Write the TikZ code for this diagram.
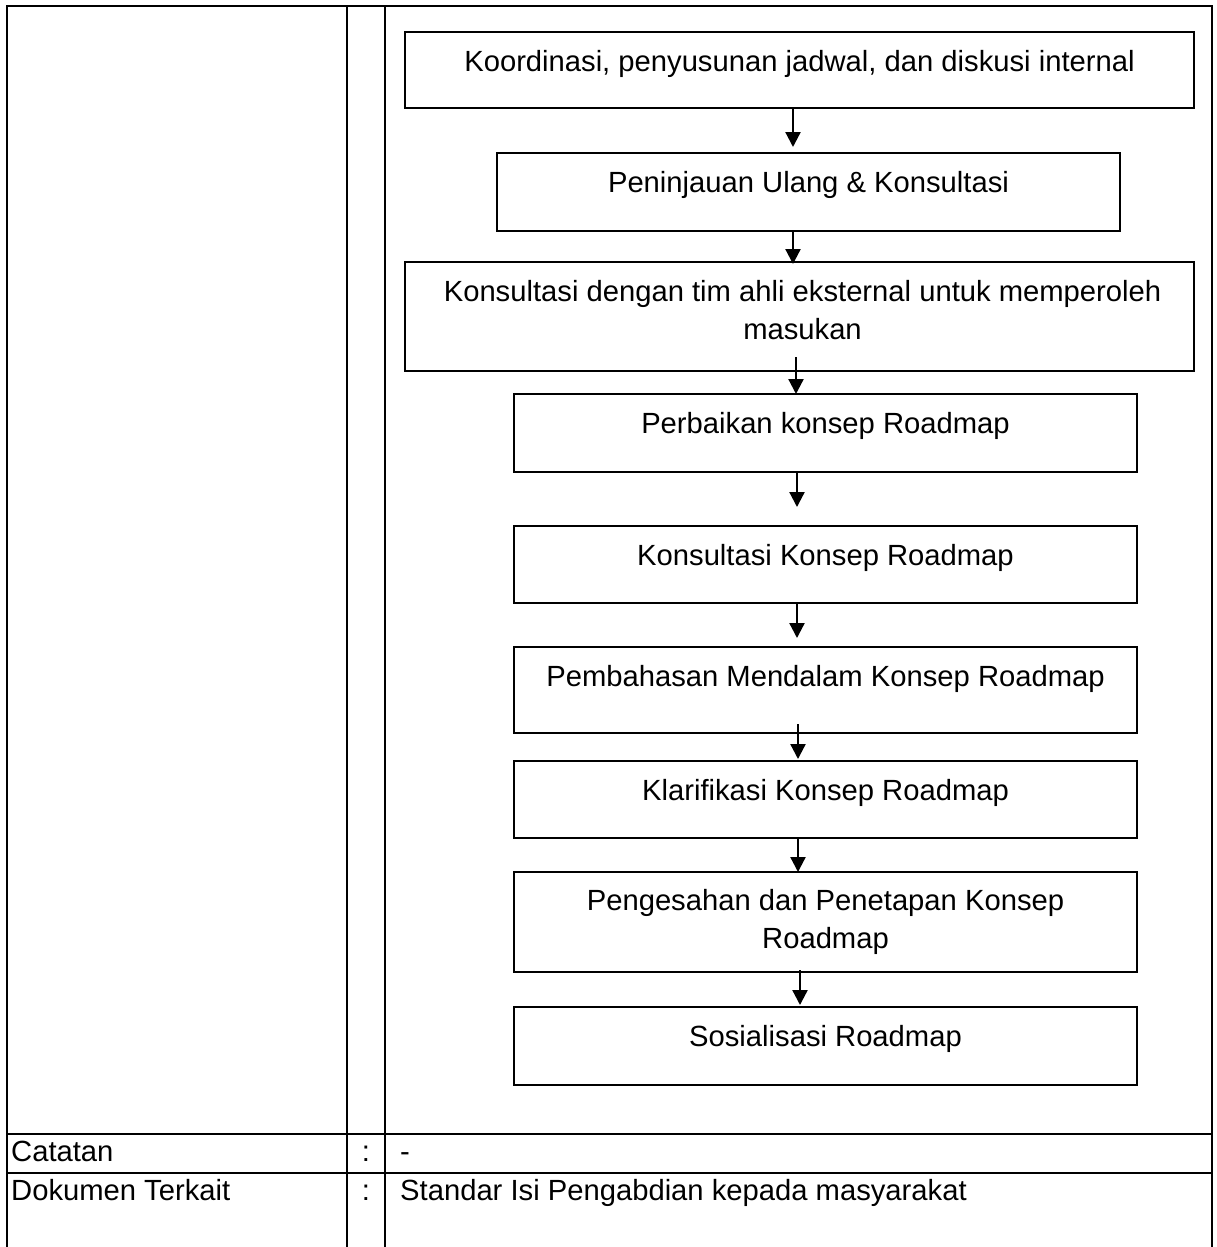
\documentclass[tikz,border=0pt]{standalone}
\usepackage{fontspec}
\setmainfont{Liberation Sans}
\usetikzlibrary{arrows.meta,calc}
\tikzset{
  tbl/.style={line width=2.8pt},
  stepbox/.style={draw, line width=2.7pt, inner sep=0pt, outer sep=0pt, minimum height=#1},
  wide/.style={minimum width=789pt},
  narrow/.style={minimum width=623pt},
  txt/.style={anchor=base, inner sep=0pt, font=\fontsize{29.2}{38}\selectfont},
  ltxt/.style={anchor=base west, inner sep=0pt, font=\fontsize{29.2}{38}\selectfont},
  arr/.style={line width=2.3pt, -{Triangle[width=15pt,length=15pt]}}
}
\begin{document}
\begin{tikzpicture}[x=1pt,y=-1pt]
\useasboundingbox (0,0) rectangle (1216,1247);
% table grid
\coordinate (tl) at (7,6);
\coordinate (tr) at (1212,6);
\coordinate (bl) at (7,1250);
\coordinate (br) at (1212,1250);
\coordinate (c1t) at (347,6);
\coordinate (c1b) at (347,1250);
\coordinate (c2t) at (385,6);
\coordinate (c2b) at (385,1250);
\coordinate (r1l) at (7,1134);
\coordinate (r1r) at (1212,1134);
\coordinate (r2l) at (7,1173);
\coordinate (r2r) at (1212,1173);
\draw[tbl] (bl) -- (tl) -- (tr) -- (br);
\draw[tbl] (c1t) -- (c1b);
\draw[tbl] (c2t) -- (c2b);
\draw[tbl] (r1l) -- (r1r);
\draw[tbl] (r2l) -- (r2r);
% boxes
\node[stepbox=76pt, wide]   (b1) at (799.5,70) {};
\node[stepbox=78pt, narrow] (b2) at (808.5,192) {};
\node[stepbox=109pt, wide]  (b3) at (799.5,316.5) {};
\node[stepbox=78pt, narrow] (b4) at (825.5,433) {};
\node[stepbox=77pt, narrow] (b5) at (825.5,564.5) {};
\node[stepbox=86pt, narrow] (b6) at (825.5,690) {};
\node[stepbox=77pt, narrow] (b7) at (825.5,799.5) {};
\node[stepbox=100pt, narrow] (b8) at (825.5,922) {};
\node[stepbox=78pt, narrow] (b9) at (825.5,1046) {};
% texts
\node[txt] (t1) at ($(b1.north)+(0,39)$) {Koordinasi, penyusunan jadwal, dan diskusi internal};
\node[txt] (t2) at ($(b2.north)+(0,39)$) {Peninjauan Ulang \& Konsultasi};
\node[txt] (t3a) at ($(b3.north)+(3,39)$) {Konsultasi dengan tim ahli eksternal untuk memperoleh};
\node[txt] (t3b) at ($(b3.north)+(3,77)$) {masukan};
\node[txt] (t4) at ($(b4.north)+(0,39)$) {Perbaikan konsep Roadmap};
\node[txt] (t5) at ($(b5.north)+(0,39)$) {Konsultasi Konsep Roadmap};
\node[txt] (t6) at ($(b6.north)+(0,39)$) {Pembahasan Mendalam Konsep Roadmap};
\node[txt] (t7) at ($(b7.north)+(0,39)$) {Klarifikasi Konsep Roadmap};
\node[txt] (t8a) at ($(b8.north)+(0,38)$) {Pengesahan dan Penetapan Konsep};
\node[txt] (t8b) at ($(b8.north)+(0,76)$) {Roadmap};
\node[txt] (t9) at ($(b9.north)+(0,39)$) {Sosialisasi Roadmap};
% arrows
\draw[arr] ($(b1.south)+(-6.5,0)$) -- ($(b2.north)+(-15.5,-6)$);
\draw[arr] ($(b2.south)+(-15.5,0)$) -- ($(b3.north)+(-6.5,2)$);
\draw[arr] ($(b3.south)+(-3.5,-14)$) -- ($(b4.north)+(-29.5,0)$);
\draw[arr] ($(b4.south)+(-28.5,0)$) -- ($(b5.north)+(-28.5,-19)$);
\draw[arr] ($(b5.south)+(-28.5,0)$) -- ($(b6.north)+(-28.5,-9)$);
\draw[arr] ($(b6.south)+(-27.5,-9)$) -- ($(b7.north)+(-27.5,-2)$);
\draw[arr] ($(b7.south)+(-27.5,0)$) -- ($(b8.north)+(-27.5,0)$);
\draw[arr] ($(b8.south)+(-25.5,-2)$) -- ($(b9.north)+(-25.5,-2)$);
% bottom rows
\node[ltxt] (cat) at (11,1161) {Catatan};
\node[txt] (col1) at (366,1161) {:};
\node[ltxt] (dash) at (400,1161) {-};
\node[ltxt] (dok) at (11,1200) {Dokumen Terkait};
\node[txt] (col2) at (366,1200) {:};
\node[ltxt] (std) at (400,1200) {Standar Isi Pengabdian kepada masyarakat};
\end{tikzpicture}
\end{document}
